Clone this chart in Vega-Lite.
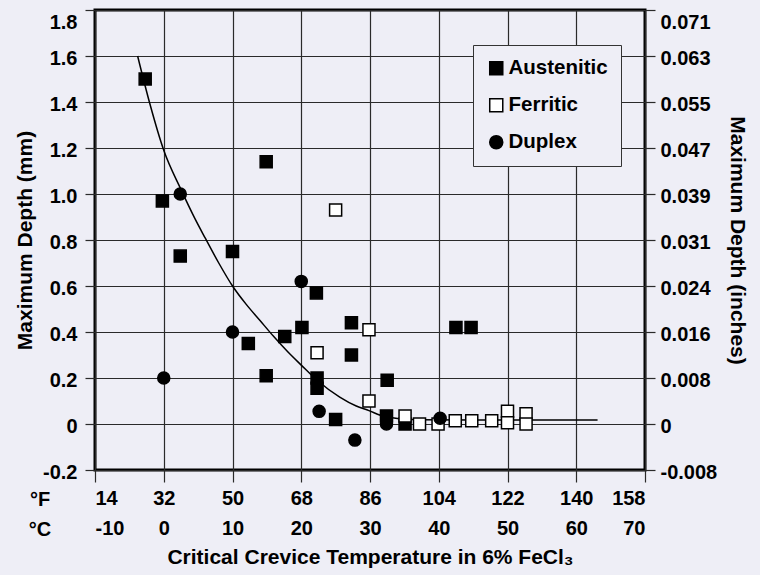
{
  "$schema": "https://vega.github.io/schema/vega-lite/v6.json",
  "width": 550,
  "height": 460,
  "autosize": {"type": "none"},
  "padding": {"left": 95, "top": 10, "right": 115, "bottom": 105},
  "background": "#EEEEF6",
  "config": {
    "view": {"stroke": "black", "strokeWidth": 3, "fill": "#EEEEF6"},
    "axis": {
      "labelFont": "Liberation Sans",
      "labelFontWeight": "bold",
      "labelFontSize": 20,
      "labelColor": "black",
      "titleFont": "Liberation Sans",
      "titleFontWeight": "bold",
      "titleFontSize": 21,
      "titleColor": "black",
      "domain": false,
      "gridColor": "#2a2a2a",
      "gridWidth": 1.2,
      "gridOpacity": 1,
      "tickColor": "#2a2a2a",
      "tickWidth": 1.2
    },
    "legend": {
      "symbolStrokeColor": "black",
      "symbolStrokeWidth": 1.5
    }
  },
  "datasets": {
    "curve": [
      {"temp_c": -3.8, "depth_mm": 1.6},
      {"temp_c": -2, "depth_mm": 1.39},
      {"temp_c": 0, "depth_mm": 1.19},
      {"temp_c": 2.5, "depth_mm": 1.02},
      {"temp_c": 4.5, "depth_mm": 0.895},
      {"temp_c": 6, "depth_mm": 0.81},
      {"temp_c": 8, "depth_mm": 0.7},
      {"temp_c": 10, "depth_mm": 0.6},
      {"temp_c": 12, "depth_mm": 0.52},
      {"temp_c": 14, "depth_mm": 0.45},
      {"temp_c": 16, "depth_mm": 0.38},
      {"temp_c": 18, "depth_mm": 0.315},
      {"temp_c": 20, "depth_mm": 0.256},
      {"temp_c": 22.3, "depth_mm": 0.19},
      {"temp_c": 25.6, "depth_mm": 0.117},
      {"temp_c": 28, "depth_mm": 0.078},
      {"temp_c": 29.85, "depth_mm": 0.058},
      {"temp_c": 31.5, "depth_mm": 0.038},
      {"temp_c": 34, "depth_mm": 0.024},
      {"temp_c": 37, "depth_mm": 0.019},
      {"temp_c": 45, "depth_mm": 0.017},
      {"temp_c": 63.1, "depth_mm": 0.017}
    ],
    "points": [
      {"temp_c": -2.7, "depth_mm": 1.5, "type": "Austenitic"},
      {"temp_c": -0.2, "depth_mm": 0.97, "type": "Austenitic"},
      {"temp_c": 2.4, "depth_mm": 0.73, "type": "Austenitic"},
      {"temp_c": 10.0, "depth_mm": 0.75, "type": "Austenitic"},
      {"temp_c": 14.9, "depth_mm": 1.14, "type": "Austenitic"},
      {"temp_c": 12.3, "depth_mm": 0.35, "type": "Austenitic"},
      {"temp_c": 17.6, "depth_mm": 0.38, "type": "Austenitic"},
      {"temp_c": 20.1, "depth_mm": 0.42, "type": "Austenitic"},
      {"temp_c": 22.2, "depth_mm": 0.57, "type": "Austenitic"},
      {"temp_c": 14.9, "depth_mm": 0.21, "type": "Austenitic"},
      {"temp_c": 22.3, "depth_mm": 0.2, "type": "Austenitic"},
      {"temp_c": 22.3, "depth_mm": 0.155, "type": "Austenitic"},
      {"temp_c": 27.3, "depth_mm": 0.44, "type": "Austenitic"},
      {"temp_c": 27.3, "depth_mm": 0.3, "type": "Austenitic"},
      {"temp_c": 25.0, "depth_mm": 0.02, "type": "Austenitic"},
      {"temp_c": 32.5, "depth_mm": 0.19, "type": "Austenitic"},
      {"temp_c": 32.4, "depth_mm": 0.035, "type": "Austenitic"},
      {"temp_c": 35.1, "depth_mm": 0.0, "type": "Austenitic"},
      {"temp_c": 42.5, "depth_mm": 0.42, "type": "Austenitic"},
      {"temp_c": 44.7, "depth_mm": 0.42, "type": "Austenitic"},
      {"temp_c": 25.0, "depth_mm": 0.93, "type": "Ferritic"},
      {"temp_c": 29.85, "depth_mm": 0.41, "type": "Ferritic"},
      {"temp_c": 22.3, "depth_mm": 0.31, "type": "Ferritic"},
      {"temp_c": 29.85, "depth_mm": 0.1, "type": "Ferritic"},
      {"temp_c": 35.1, "depth_mm": 0.035, "type": "Ferritic"},
      {"temp_c": 37.2, "depth_mm": 0.0, "type": "Ferritic"},
      {"temp_c": 39.9, "depth_mm": 0.0, "type": "Ferritic"},
      {"temp_c": 42.4, "depth_mm": 0.014, "type": "Ferritic"},
      {"temp_c": 44.8, "depth_mm": 0.014, "type": "Ferritic"},
      {"temp_c": 47.7, "depth_mm": 0.014, "type": "Ferritic"},
      {"temp_c": 50.0, "depth_mm": 0.055, "type": "Ferritic"},
      {"temp_c": 50.0, "depth_mm": 0.005, "type": "Ferritic"},
      {"temp_c": 52.7, "depth_mm": 0.045, "type": "Ferritic"},
      {"temp_c": 52.7, "depth_mm": 0.0, "type": "Ferritic"},
      {"temp_c": 2.4, "depth_mm": 1.0, "type": "Duplex"},
      {"temp_c": 0.0, "depth_mm": 0.2, "type": "Duplex"},
      {"temp_c": 10.0, "depth_mm": 0.4, "type": "Duplex"},
      {"temp_c": 20.0, "depth_mm": 0.62, "type": "Duplex"},
      {"temp_c": 22.6, "depth_mm": 0.055, "type": "Duplex"},
      {"temp_c": 27.8, "depth_mm": -0.07, "type": "Duplex"},
      {"temp_c": 32.4, "depth_mm": 0.0, "type": "Duplex"},
      {"temp_c": 40.2, "depth_mm": 0.025, "type": "Duplex"}
    ],
    "unitF": [{"unit": "°F", "temp_c": -10, "depth_mm": -0.2}],
    "unitC": [{"unit": "°C", "temp_c": -10, "depth_mm": -0.2}]
  },
  "layer": [
    {
      "data": {"name": "curve"},
      "mark": {"type": "line", "color": "black", "strokeWidth": 1.5, "interpolate": "monotone"},
      "encoding": {
        "x": {
          "field": "temp_c", "type": "quantitative",
          "scale": {"domain": [-10, 70], "nice": false, "zero": false},
          "axis": {
            "title": "Critical Crevice Temperature in 6% FeCl₃",
            "values": [-10, 0, 10, 20, 30, 40, 50, 60, 70],
            "labelExpr": "[format(datum.value*1.8+32, 'd'), (datum.value < 0 ? '-' : '') + format(abs(datum.value), 'd')]",
            "labelLineHeight": 30,
            "labelBaseline": "top",
            "labelPadding": 6,
            "tickSize": 12,
            "grid": true,
            "titlePadding": 8
          }
        },
        "y": {
          "field": "depth_mm", "type": "quantitative",
          "scale": {"domain": [-0.2, 1.8], "nice": false, "zero": false},
          "axis": {
            "title": "Maximum Depth (mm)",
            "values": [-0.2, 0, 0.2, 0.4, 0.6, 0.8, 1.0, 1.2, 1.4, 1.6, 1.8],
            "labelExpr": "abs(datum.value) < 1e-9 ? '0' : (datum.value < 0 ? '-' : '') + format(abs(datum.value), '.1f')",
            "labelBaseline": {"condition": {"test": "datum.value > 1.7", "value": "top"}, "value": "middle"},
            "labelOffset": 2,
            "tickSize": 10,
            "labelPadding": 8,
            "grid": true,
            "titlePadding": 7
          }
        }
      }
    },
    {
      "data": {"name": "points"},
      "mark": {"type": "point", "strokeWidth": 1.5, "opacity": 1, "fillOpacity": 1, "size": 145},
      "encoding": {
        "x": {"field": "temp_c", "type": "quantitative", "axis": null},
        "y": {
          "field": "depth_mm", "type": "quantitative",
          "axis": {
            "orient": "right",
            "title": "Maximum Depth (inches)",
            "titleAngle": 90,
            "values": [-0.2, 0, 0.2, 0.4, 0.6, 0.8, 1.0, 1.2, 1.4, 1.6, 1.8],
            "labelExpr": "abs(datum.value) < 1e-9 ? '0' : (datum.value < 0 ? '-' : '') + format(abs(datum.value)/25.4, '.3f')",
            "labelBaseline": {"condition": {"test": "datum.value > 1.7", "value": "top"}, "value": "middle"},
            "labelOffset": 2,
            "tickSize": 10,
            "labelPadding": 5,
            "grid": false,
            "titlePadding": 10
          }
        },
        "shape": {
          "field": "type", "type": "nominal",
          "scale": {"domain": ["Austenitic", "Ferritic", "Duplex"], "range": ["square", "square", "circle"]},
          "legend": {
            "title": null, "orient": "none", "legendX": 378, "legendY": 35,
            "fillColor": "#EEEEF6", "strokeColor": "#333333", "padding": 13, "rowPadding": 16,
            "labelFont": "Liberation Sans", "labelFontSize": 20.5, "labelFontWeight": "bold", "labelColor": "black",
            "symbolSize": 170, "labelOffset": 2
          }
        },
        "fill": {
          "field": "type", "type": "nominal",
          "scale": {"domain": ["Austenitic", "Ferritic", "Duplex"], "range": ["black", "white", "black"]},
          "legend": {
            "title": null, "orient": "none", "legendX": 378, "legendY": 35,
            "fillColor": "#EEEEF6", "strokeColor": "#333333", "padding": 13, "rowPadding": 16,
            "labelFont": "Liberation Sans", "labelFontSize": 20.5, "labelFontWeight": "bold", "labelColor": "black",
            "symbolSize": 170, "labelOffset": 2
          }
        },
        "stroke": {
          "field": "type", "type": "nominal",
          "scale": {"domain": ["Austenitic", "Ferritic", "Duplex"], "range": ["black", "black", "black"]},
          "legend": {
            "title": null, "orient": "none", "legendX": 378, "legendY": 35,
            "fillColor": "#EEEEF6", "strokeColor": "#333333", "padding": 13, "rowPadding": 16,
            "labelFont": "Liberation Sans", "labelFontSize": 20.5, "labelFontWeight": "bold", "labelColor": "black",
            "symbolSize": 170, "labelOffset": 2
          }
        }
      }
    },
    {
      "data": {"name": "unitF"},
      "mark": {"type": "text", "font": "Liberation Sans", "fontWeight": "bold", "fontSize": 20, "color": "black", "dx": -55, "dy": 30, "baseline": "middle", "align": "center"},
      "encoding": {
        "x": {"field": "temp_c", "type": "quantitative", "axis": null},
        "y": {"field": "depth_mm", "type": "quantitative", "axis": null},
        "text": {"field": "unit"}
      }
    },
    {
      "data": {"name": "unitC"},
      "mark": {"type": "text", "font": "Liberation Sans", "fontWeight": "bold", "fontSize": 20, "color": "black", "dx": -55, "dy": 60, "baseline": "middle", "align": "center"},
      "encoding": {
        "x": {"field": "temp_c", "type": "quantitative", "axis": null},
        "y": {"field": "depth_mm", "type": "quantitative", "axis": null},
        "text": {"field": "unit"}
      }
    }
  ],
  "resolve": {"axis": {"x": "independent", "y": "independent"}}
}
